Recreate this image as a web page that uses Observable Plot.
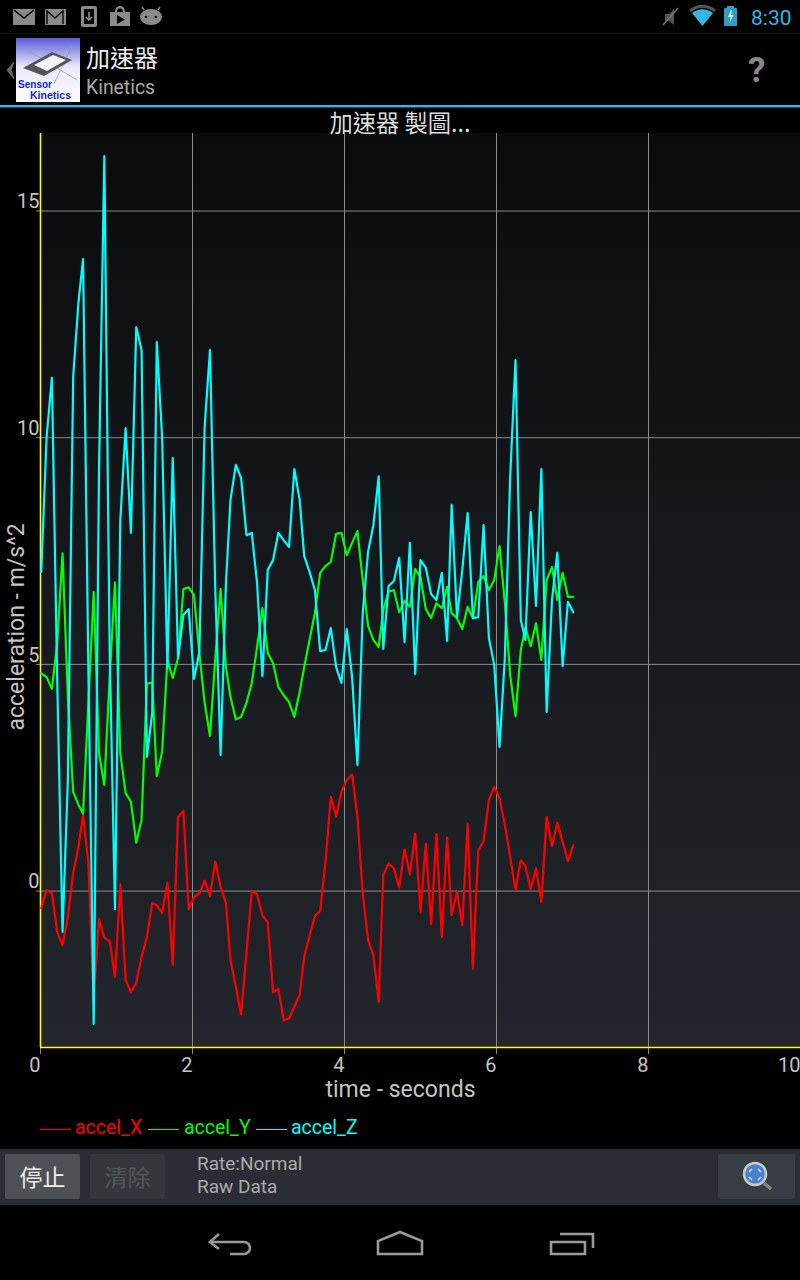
<!DOCTYPE html>
<html><head><meta charset="utf-8">
<script src="https://cdn.jsdelivr.net/npm/d3@7"></script>
<script src="https://cdn.jsdelivr.net/npm/@observablehq/plot@0.6"></script>
<style>
html,body{margin:0;padding:0;background:#000;width:800px;height:1280px;overflow:hidden;font-family:Roboto,sans-serif}
.a{position:absolute;white-space:nowrap;line-height:1}
#plotbg{position:absolute;left:40px;top:133px;width:760px;height:914px;background:linear-gradient(#090b0d,#23272d)}
#chart{position:absolute;left:0;top:133px}
#chart svg{background:transparent;display:block}
.cjk{font-family:"Noto Sans CJK TC","Noto Sans CJK SC",sans-serif}
</style></head><body>
<div id="plotbg"></div><div id="chart"></div>

<svg class="a" style="left:0;top:0" width="800" height="110" viewBox="0 0 800 110">
<rect x="0" y="33" width="800" height="1" fill="#141414"/>
<rect x="0" y="105" width="800" height="2.4" fill="#33b5e5"/>
<g fill="#8a8a8a">
<path d="M13 9h22v16H13z"/><path d="M45 9h21v16H45z"/><rect x="81" y="6" width="16" height="21" rx="2"/>
<path d="M110 12h20v14h-20zM115 12c0-8 10-8 10 0h-2c0-5-6-5-6 0z"/>
<ellipse cx="151" cy="17" rx="11" ry="8"/><path d="M144 10l-2-3M158 10l2-3" stroke="#8a8a8a" stroke-width="1.5"/>
</g>
<path d="M14 10l10 8 10-8" fill="none" stroke="#000" stroke-width="1.5"/>
<path d="M47 24V11l8 7 8-7v13" fill="none" stroke="#111" stroke-width="1.5"/>
<rect x="84" y="9" width="10" height="15" fill="#000"/><path d="M89 12v7M86 17l3 3 3-3" fill="none" stroke="#8a8a8a" stroke-width="1.6"/>
<path d="M117 15l8 4.500-8 4.500z" fill="#000"/>
<circle cx="146" cy="17" r="1.300" fill="#000"/><circle cx="156" cy="17" r="1.300" fill="#000"/>
<path d="M665 14h4l5-5v16l-5-4h-4z" fill="#555"/><path d="M663 25l15-17" stroke="#777" stroke-width="1.500"/>
<path d="M692 13c7-5 14-5 21 0l-10.500 13z" fill="#33b5e5"/><path d="M690 11c8-6 17-6 25 0" fill="none" stroke="#555" stroke-width="3"/>
<rect x="724" y="8" width="13" height="18" rx="1" fill="#2f9dc6"/><rect x="727" y="6" width="7" height="2" fill="#2f9dc6"/>
<path d="M731 10l-3 7h2.500l-1 6 4-8h-2.500l1-5z" fill="#eee"/>
<path d="M14 62l-7 8 7 9-3-9z" fill="#666" stroke="#666" stroke-width="1"/>
<defs><linearGradient id="icon" x1="0" y1="0" x2="0" y2="1"><stop offset="0" stop-color="#5a5ad8"/><stop offset="0.45" stop-color="#e8e8fa"/><stop offset="1" stop-color="#fff"/></linearGradient></defs>
<rect x="16" y="38" width="64" height="64" fill="url(#icon)"/>
<path d="M27 50l50 30M54 84L72 46" stroke="#999" stroke-width="0.700" fill="none"/>
<path d="M23 68l29-16 20 8-28 16z" fill="#555"/><path d="M34 65l19-10 13 5-19 11z" fill="#f4f4f4"/>
<text x="18" y="87.500" fill="#1024c8" font-family="Liberation Sans" font-weight="700" font-size="10" textLength="34" lengthAdjust="spacingAndGlyphs">Sensor</text>
<text x="30" y="98.500" fill="#1024c8" font-family="Liberation Sans" font-weight="700" font-size="10" textLength="41" lengthAdjust="spacingAndGlyphs">Kinetics</text>
</svg>

<div class="a" style="left:751px;top:8px;font-size:21px;color:#33b5e5">8:30</div>
<div class="a cjk" style="left:86px;top:45px;font-size:24px;color:#eee">加速器</div>
<div class="a" style="left:86px;top:78px;font-size:19.4px;color:#aaa">Kinetics</div>
<div class="a" style="left:748px;top:53px;font-size:35px;font-weight:700;color:#888">?</div>
<div class="a cjk" style="left:0;width:800px;text-align:center;top:111px;font-size:23.300px;color:#ddd">加速器 製圖...</div>

<div class="a" id="legend" style="left:0;top:1118px;font-size:19.5px">
<span class="a" style="left:40px;top:11px;width:31px;height:1px;background:#f00"></span><span class="a" style="left:75px;top:0;color:#f00" data-k="0"></span>
<span class="a" style="left:148px;top:11px;width:31px;height:1px;background:#0f0"></span><span class="a" style="left:184px;top:0;color:#0f0" data-k="1"></span>
<span class="a" style="left:256px;top:11px;width:31px;height:1px;background:#0ff"></span><span class="a" style="left:291px;top:0;color:#0ff" data-k="2"></span>
</div>

<div class="a" style="left:0;top:1149px;width:800px;height:56px;background:#2a2e34"></div>
<div class="a cjk" style="left:5px;top:1154px;width:75px;height:45px;background:#4d5155;border-radius:2px;color:#eee;font-size:23px;line-height:45px;text-align:center">停止</div>
<div class="a cjk" style="left:90px;top:1154px;width:75px;height:45px;background:#34383d;border-radius:2px;color:#555;font-size:23px;line-height:45px;text-align:center">清除</div>
<div class="a" style="left:197px;top:1154px;font-size:19px;color:#aaa">Rate:Normal</div>
<div class="a" style="left:197px;top:1177px;font-size:19px;color:#aaa">Raw Data</div>
<div class="a" style="left:718px;top:1154px;width:77px;height:45px;background:#383c43;border-radius:2px"></div>

<svg class="a" style="left:0;top:1150px" width="800" height="130" viewBox="0 1150 800 130">
<circle cx="755" cy="1174" r="11" fill="#4a80cc" stroke="#c8ccc8" stroke-width="2.500"/>
<path d="M749 1172l3-3M761 1172l-3-3M749 1177l3 3M761 1177l-3 3" stroke="#cfe0f5" stroke-width="1.500" fill="none"/>
<path d="M764 1183l7 6" stroke="#888" stroke-width="3.500"/>
<g fill="none" stroke="#999" stroke-width="2.600">
<path d="M219 1234l-9 8 9 7"/><path d="M210 1242h34a6 6 0 0 1 0 12h-14"/>
<path d="M378 1254v-13l22-9 22 9v13z"/>
<path d="M551 1242h34v12h-34z"/><path d="M560 1234h33v14"/>
</g></svg>

<script>
const timeSec = [0.01,0.08,0.15,0.22,0.29,0.36,0.43,0.50,0.56,0.63,
0.70,0.77,0.84,0.91,0.98,1.05,1.12,1.19,1.26,1.33,
1.40,1.47,1.53,1.60,1.67,1.74,1.81,1.88,1.95,2.02,
2.09,2.16,2.23,2.30,2.37,2.44,2.50,2.57,2.64,2.71,
2.78,2.85,2.92,2.99,3.06,3.13,3.20,3.27,3.34,3.41,
3.47,3.54,3.61,3.68,3.75,3.82,3.89,3.96,4.03,4.10,
4.17,4.24,4.31,4.38,4.45,4.51,4.58,4.65,4.72,4.79,
4.86,4.93,5.00,5.07,5.14,5.21,5.28,5.35,5.41,5.48,
5.55,5.62,5.69,5.76,5.83,5.90,5.97,6.04,6.11,6.18,
6.25,6.32,6.38,6.45,6.52,6.59,6.66,6.73,6.80,6.87,
6.94,7.01];
const accelX = [-0.38,0.02,-0.04,-0.90,-1.19,-0.57,0.40,0.98,1.68,0.62,
-2.40,-0.62,-1.03,-1.10,-1.89,0.15,-1.96,-2.23,-2.02,-1.45,
-1.01,-0.26,-0.31,-0.48,0.18,-1.63,1.63,1.77,-0.40,-0.13,
-0.05,0.23,-0.11,0.65,0.09,-0.27,-1.52,-2.11,-2.72,-1.37,
0.00,-0.07,-0.54,-0.69,-2.23,-2.16,-2.85,-2.81,-2.55,-2.29,
-1.45,-0.99,-0.55,-0.44,0.65,2.08,1.65,2.19,2.45,2.57,
1.64,-0.05,-1.08,-1.41,-2.44,0.35,0.61,0.50,0.08,0.92,
0.37,1.27,-0.46,1.04,-0.73,1.26,-1.01,1.18,-0.53,-0.02,
-0.75,1.48,-1.71,0.90,1.10,2.01,2.30,2.04,1.46,0.76,
0.02,0.68,0.55,0.04,0.50,-0.24,1.63,0.99,1.51,1.09,
0.66,1.01];
const accelY = [4.80,4.72,4.46,5.47,7.45,4.28,2.19,1.90,1.71,4.15,
6.60,3.04,2.34,4.72,6.81,3.04,2.16,1.97,1.07,1.57,
4.57,4.60,2.54,3.07,5.10,4.70,5.14,6.66,6.70,6.53,
5.25,4.15,3.42,5.14,6.66,4.94,4.28,3.79,3.84,4.15,
4.59,5.38,6.24,5.25,5.03,4.50,4.32,4.17,3.84,4.39,
4.94,5.54,6.13,7.02,7.17,7.26,7.88,7.90,7.41,7.68,
7.94,6.86,5.85,5.54,5.38,6.20,6.60,6.64,6.15,6.40,
6.27,7.10,6.93,6.22,6.02,6.35,6.24,6.71,6.13,6.02,
5.78,6.27,6.02,6.82,6.95,6.64,6.86,7.61,6.35,4.77,
3.86,5.32,5.82,5.40,5.91,5.10,6.86,7.15,6.42,7.02,
6.49,6.49];
const accelZ = [7.04,10.00,11.32,4.65,-0.90,2.45,11.34,12.99,13.94,4.88,
-2.93,9.29,16.21,5.32,-0.40,8.18,10.21,7.90,12.44,11.93,
2.96,3.93,12.11,10.02,4.92,9.55,5.14,6.09,6.22,4.68,
5.27,10.24,11.93,6.64,3.00,6.79,8.63,9.40,9.11,7.85,
7.90,6.79,4.74,7.08,7.30,7.90,7.74,7.59,9.31,8.63,
7.39,7.04,6.64,5.29,5.32,5.80,4.94,4.59,5.78,4.72,
2.78,6.13,7.48,8.07,9.15,5.34,6.73,6.84,7.35,5.49,
7.68,4.79,7.30,7.13,6.55,6.42,7.02,5.52,8.52,6.04,
7.08,8.34,6.02,6.04,8.07,5.58,4.99,3.18,5.16,9.13,
11.71,5.98,5.54,8.36,6.29,9.31,3.95,6.42,7.46,4.96,
6.38,6.15];
const seriesNames = ["accel_X","accel_Y","accel_Z"];
const seriesColors = ["#ff0000","#00ff00","#00ffff"];
const xTicks = [0,2,4,6,8,10];
const yTicks = [0,5,10,15];
const xDomain = [0,10];
const yDomain = [-3.45,16.71];
const xLabel = "time - seconds";
const yLabel = "acceleration - m/s^2";

document.querySelectorAll("#legend [data-k]").forEach(e => e.textContent = seriesNames[+e.dataset.k]);
const toRows = (vals,name) => vals.map((v,i)=>({t:timeSec[i],v,name}));
const grid = "#8a8a8a", tickText = "#c4c4c4", axisColor = "#ffff00";
const lineFor = (vals,name,color) => Plot.line(toRows(vals,name),{x:"t",y:"v",stroke:color,strokeWidth:2.2,strokeLinejoin:"round",curve:"linear"});

const plot = Plot.plot({
  width:800,height:974,
  marginLeft:40,marginRight:0,marginTop:0,marginBottom:60,
  x:{domain:xDomain},y:{domain:yDomain},
  style:{fontFamily:"Roboto",background:"transparent"},
  marks:[
    Plot.gridX(xTicks,{stroke:grid,strokeOpacity:1,strokeWidth:1}),
    Plot.gridY(yTicks,{stroke:grid,strokeOpacity:1,strokeWidth:1}),
    Plot.tickY(yTicks,{y:d=>d,stroke:grid,insetLeft:-4,insetRight:760,strokeWidth:1}),
    Plot.axisX({ticks:xTicks,tickSize:7,tickPadding:3,textAnchor:"end",fontSize:20,color:tickText,stroke:grid,strokeOpacity:1,label:null}),
    Plot.ruleY(yDomain.slice(0,1),{stroke:axisColor,strokeWidth:1.6}),
    Plot.ruleX(xDomain.slice(0,1),{stroke:axisColor,strokeWidth:1.6}),
    lineFor(accelX,seriesNames[0],seriesColors[0]),
    lineFor(accelY,seriesNames[1],seriesColors[1]),
    lineFor(accelZ,seriesNames[2],seriesColors[2]),
    Plot.axisY({ticks:yTicks,tickSize:0,tickPadding:1,dy:-9,fontSize:20,color:tickText,label:null}),
    Plot.text([xLabel],{frameAnchor:"bottom",dx:-20,dy:49,fontSize:23,fill:tickText}),
    Plot.text([yLabel],{frameAnchor:"left",rotate:-90,dx:-24,dy:140,fontSize:23,fill:tickText})
  ]
});
document.getElementById("chart").appendChild(plot);
</script>
</body></html>
